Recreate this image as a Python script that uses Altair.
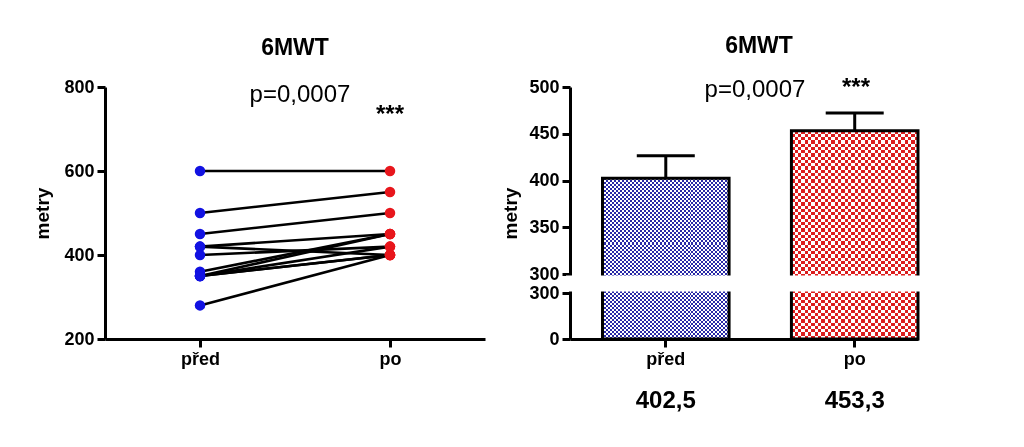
import altair as alt
import pandas as pd

# ---------------- data ----------------
phases = ["před", "po"]
pre_values = [600, 500, 450, 420, 420, 400, 360, 350, 350, 350, 350, 280]
post_values = [600, 550, 500, 450, 400, 420, 450, 450, 420, 400, 400, 400]
bar_means = [402.5, 453.3]
bar_sem = [24, 19]
bar_labels = ["402,5", "453,3"]
chart_title = "6MWT"
y_title = "metry"
p_text = "p=0,0007"
stars = "***"

FONT = "Liberation Sans"
BLUE_PT = "#1212e2"
RED_PT = "#e8161c"
BLUE_BAR = "#2828a6"
RED_BAR = "#dc1e1e"

# ---------------- left panel: paired points ----------------
rows = []
for i, (a, b) in enumerate(zip(pre_values, post_values)):
    rows.append({"id": i, "phase": phases[0], "value": a})
    rows.append({"id": i, "phase": phases[1], "value": b})
pairs = pd.DataFrame(rows)

LW, LH = 380, 252
xl = alt.X("phase:N", sort=phases,
           scale=alt.Scale(type="point", padding=0.5),
           axis=alt.Axis(title=None, labelAngle=0))
yl = alt.Y("value:Q", scale=alt.Scale(domain=[200, 800], nice=False, zero=False),
           axis=alt.Axis(values=[200, 400, 600, 800], title=y_title, titlePadding=11))

lines = alt.Chart(pairs).mark_line(color="black", strokeWidth=2.6).encode(
    x=xl, y=yl, detail="id:N")
pts = alt.Chart(pairs).mark_circle(size=110, opacity=1).encode(
    x=xl, y=yl,
    color=alt.Color("phase:N", scale=alt.Scale(domain=phases, range=[BLUE_PT, RED_PT]), legend=None))

ann_l = pd.DataFrame({"t": [p_text]})
p_left = alt.Chart(ann_l).mark_text(font=FONT, fontSize=24, color="black", baseline="alphabetic").encode(
    x=alt.value(195), y=alt.value(15), text="t:N")
s_left = alt.Chart(pd.DataFrame({"t": [stars]})).mark_text(font=FONT, fontSize=24, fontWeight="bold",
                                                           color="black", baseline="alphabetic").encode(
    x=alt.value(285), y=alt.value(35), text="t:N")

left = alt.layer(lines, pts, p_left, s_left).properties(
    width=LW, height=LH,
    title=alt.Title(chart_title, font=FONT, fontSize=23, fontWeight="bold", offset=18, color="black"))

# ---------------- right panel: bars with broken axis ----------------
bars = pd.DataFrame({"phase": phases, "mean": bar_means,
                     "upper": [m + s for m, s in zip(bar_means, bar_sem)],
                     "label": bar_labels})

RW, RH = 348, 252
xr = alt.X("phase:N", sort=phases,
           scale=alt.Scale(type="band", paddingInner=0.33, paddingOuter=0.086, align=1),
           axis=alt.Axis(title=None, labelAngle=0))
yr_scale = alt.Scale(domain=[0, 299.9, 300, 500], range=[252, 206, 187, 0], nice=False, zero=False)
yr = alt.Y("mean:Q", scale=yr_scale,
           axis=alt.Axis(values=[0, 299.9, 300, 350, 400, 450, 500], title=y_title, titlePadding=8,
                         labelExpr="datum.value > 299 && datum.value < 300 ? '300' : datum.label"))


def stripes(c1, c2, n, along_x):
    stops = []
    for i in range(n):
        a, m, b = i / n, (i + 0.5) / n, (i + 1) / n
        stops += [alt.GradientStop(offset=a, color=c1), alt.GradientStop(offset=m, color=c1),
                  alt.GradientStop(offset=m, color=c2), alt.GradientStop(offset=b, color=c2)]
    if along_x:
        return alt.LinearGradient(gradient="linear", stops=stops, x1=0, x2=1, y1=0, y2=0)
    return alt.LinearGradient(gradient="linear", stops=stops, x1=0, x2=0, y1=0, y2=1)


pattern = {phases[0]: (BLUE_BAR, 32, 40), phases[1]: (RED_BAR, 19, 32)}
bar_layers = []
for ph in phases:
    col, ncols, nrows = pattern[ph]
    base = alt.Chart(bars).transform_filter(alt.datum.phase == ph)
    bar_layers.append(base.mark_bar(fill=stripes("black", "white", ncols, True), strokeWidth=0).encode(
        x=xr, y=yr))
    bar_layers.append(base.mark_bar(fill=stripes("white", "rgba(0,0,0,0)", nrows, False),
                                    strokeWidth=0, blend="difference").encode(x=xr, y="mean:Q"))
    bar_layers.append(base.mark_bar(fill=col, strokeWidth=0, blend="lighten").encode(x=xr, y="mean:Q"))

outline = alt.Chart(bars).mark_bar(fillOpacity=0, stroke="black", strokeWidth=3).encode(x=xr, y="mean:Q")
stem = alt.Chart(bars).mark_rule(color="black", strokeWidth=3).encode(x=xr, y="mean:Q", y2="upper:Q")
cap = alt.Chart(bars).mark_tick(color="black", size=58, thickness=3, opacity=1).encode(x=xr, y="upper:Q")
gap = alt.Chart(pd.DataFrame({"a": [0]})).mark_rect(color="white").encode(
    x=alt.value(-4), x2=alt.value(RW + 4), y=alt.datum(299.908), y2=alt.datum(299.992))
vals = alt.Chart(bars).mark_text(font=FONT, fontSize=24, fontWeight="bold", color="black",
                                 baseline="alphabetic").encode(x=xr, y=alt.value(321), text="label:N")
p_right = alt.Chart(ann_l).mark_text(font=FONT, fontSize=24, color="black", baseline="alphabetic").encode(
    x=alt.value(185), y=alt.value(10), text="t:N")
s_right = alt.Chart(pd.DataFrame({"t": [stars]})).mark_text(font=FONT, fontSize=24, fontWeight="bold",
                                                            color="black", baseline="alphabetic").encode(
    x=alt.value(286), y=alt.value(8), text="t:N")

right = alt.layer(*bar_layers, outline, stem, cap, gap, vals, p_right, s_right).properties(
    width=RW, height=RH,
    title=alt.Title(chart_title, font=FONT, fontSize=23, fontWeight="bold", offset=18, dx=15, color="black"))

chart = alt.hconcat(left, right, spacing=16).properties(
    padding={"left": 25, "top": 27, "right": 5, "bottom": 5}
).configure_axis(
    domainWidth=3, domainColor="black", tickWidth=3, tickColor="black", tickSize=8,
    labelFont=FONT, labelFontSize=18, labelFontWeight="bold", labelColor="black", labelPadding=3,
    titleFont=FONT, titleFontSize=19, titleFontWeight="bold", titleColor="black", grid=False
).configure_view(stroke=None)

chart.save("out.html", embed_options={"renderer": "svg", "actions": False})
